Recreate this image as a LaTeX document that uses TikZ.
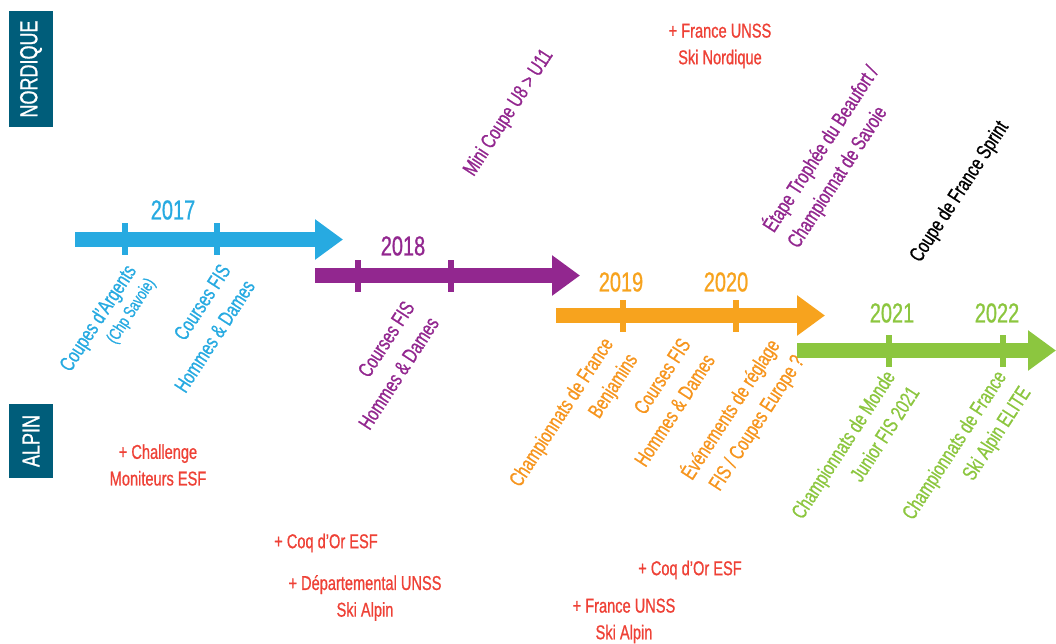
\documentclass[tikz,border=0pt]{standalone}
\usepackage{fontspec}
\setmainfont{Liberation Sans}[FakeStretch=0.73,FakeBold=0.8]
\usetikzlibrary{arrows.meta}
\definecolor{skiblue}{RGB}{39,170,225}
\definecolor{skipurple}{RGB}{146,39,143}
\definecolor{skiorange}{RGB}{247,163,30}
\definecolor{skiorangetxt}{RGB}{246,149,30}
\definecolor{skigreen}{RGB}{140,198,63}
\definecolor{skired}{RGB}{238,65,54}
\definecolor{skiteal}{RGB}{0,93,122}
\tikzset{
  bar/.style={line width=11.25pt,-{Triangle[length=21pt,width=29pt]}},
  tickmark/.style={line width=4.5pt},
  yearlbl/.style={inner sep=0pt,font=\fontsize{20.5}{24}\selectfont},
  evt/.style={rotate=57,inner sep=0pt,font=\fontsize{15.75}{21.75}\selectfont},
  evtr/.style={evt,align=right,anchor=north east},
  evtl/.style={evt,align=left,anchor=south west},
  plus/.style={align=center,inner sep=0pt,text=skired,font=\fontsize{15}{20}\selectfont},
  sidebox/.style={fill=skiteal,text=white,rotate=90,inner sep=0pt,font=\fontsize{18.5}{22}\selectfont}
}
\begin{document}
\begin{tikzpicture}[x=0.75pt,y=0.75pt,yscale=-1,xscale=1]
        \useasboundingbox (0,0) rectangle (1056,643);

        % Side boxes
        \fill[skiteal] (9,11) rectangle (53,127);
        \node[sidebox] (nordique) at (31,69) {NORDIQUE};
        \fill[skiteal] (9,404) rectangle (53,478);
        \node[sidebox] (alpin) at (31,441) {ALPIN};

        %Straight Lines 2017
        \coordinate (s17) at (75,239.5);
        \coordinate (e17) at (343,239.5);
        \draw[bar,skiblue] (s17) -- (e17);
        \draw[tickmark,skiblue] (125,223) -- (125,255);
        \draw[tickmark,skiblue] (217,223) -- (217,255);
        %Straight Lines 2018
        \coordinate (s18) at (315,275.5);
        \coordinate (e18) at (580,275.5);
        \draw[bar,skipurple] (s18) -- (e18);
        \draw[tickmark,skipurple] (358,260) -- (358,292);
        \draw[tickmark,skipurple] (451,260) -- (451,292);
        %Straight Lines 2019-2020
        \coordinate (s19) at (556,315.5);
        \coordinate (e19) at (825,315.5);
        \draw[bar,skiorange] (s19) -- (e19);
        \draw[tickmark,skiorange] (623,300) -- (623,332);
        \draw[tickmark,skiorange] (736,300) -- (736,332);
        %Straight Lines 2021-2022
        \coordinate (s21) at (797,350.5);
        \coordinate (e21) at (1056,350.5);
        \draw[bar,skigreen] (s21) -- (e21);
        \draw[tickmark,skigreen] (889,335) -- (889,367);
        \draw[tickmark,skigreen] (1003,335) -- (1003,367);

        % Text Node years
        \node[yearlbl,text=skiblue] (y2017) at (173,210) {2017};
        \node[yearlbl,text=skipurple] (y2018) at (403,246) {2018};
        \node[yearlbl,text=skiorange] (y2019) at (621,282) {2019};
        \node[yearlbl,text=skiorange] (y2020) at (726,282) {2020};
        \node[yearlbl,text=skigreen] (y2021) at (892,313) {2021};
        \node[yearlbl,text=skigreen] (y2022) at (997,313) {2022};

        % Text Node alpin events
        \node[evtr,text=skiblue] (argents) at (124,262) {Coupes d'Argents\\[-5pt]{\fontsize{13}{15}\selectfont (Chp Savoie)}};
        \node[evtr,text=skiblue] (fis17) at (219,262) {Courses FIS\\Hommes \& Dames};
        \node[evtr,text=skipurple] (fis18) at (403,299) {Courses FIS\\Hommes \& Dames};
        \node[evtr,text=skiorangetxt] (benjamins) at (601,335) {Championnats de France\\Benjamins};
        \node[evtr,text=skiorangetxt] (fis19) at (679,336) {Courses FIS\\Hommes \& Dames};
        \node[evtr,text=skiorangetxt] (reglage) at (765,335) {Événements de réglage\\FIS / Coupes Europe ?};
        \node[evtr,text=skigreen] (monde) at (883,368) {Championnats de Monde\\Junior FIS 2021};
        \node[evtr,text=skigreen] (elite) at (994,368) {Championnats de France\\Ski Alpin ELITE};

        % Text Node nordique events
        \node[evt,text=skipurple] (minicoupe) at (509,113) {Mini Coupe U8 > U11};
        \node[evtl,text=skipurple] (beaufort) at (802,252) {Étape Trophée du Beaufort /\\Championnat de Savoie};
        \node[evt,text=black] (sprint) at (960,192) {Coupe de France Sprint};

        % Text Node extras
        \node[plus] (challenge) at (158,465) {+ Challenge\\Moniteurs ESF};
        \node[plus] (coq18) at (326,543) {+ Coq d'Or ESF};
        \node[plus] (dept) at (365,598) {+ Départemental UNSS\\Ski Alpin};
        \node[plus] (coq20) at (690,570) {+ Coq d'Or ESF};
        \node[plus] (unssalpin) at (624,621) {+ France UNSS\\Ski Alpin};
        \node[plus] (unssnord) at (720,46) {+ France UNSS\\Ski Nordique};

\end{tikzpicture}
\end{document}
